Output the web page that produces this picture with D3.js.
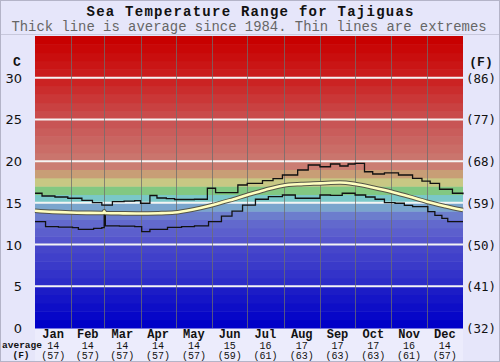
<!DOCTYPE html>
<html>
<head>
<meta charset="utf-8">
<script src="https://cdn.jsdelivr.net/npm/d3@7"></script>
<style>
  body { margin: 0; background: #e6e6fa; }
  svg { display: block; }
</style>
</head>
<body>
<svg id="chart" width="500" height="362"></svg>
<script>
// --- data (day of year, deg C) ---
var months = ["Jan","Feb","Mar","Apr","May","Jun","Jul","Aug","Sep","Oct","Nov","Dec"];
var monthStart = [0,31,59,90,120,151,181,212,243,273,304,334,365];
var avgC = [14,14,14,14,14,15,16,17,17,17,16,14];
var avgF = [57,57,57,57,57,59,61,63,63,63,61,57];
var cTicks = [0,5,10,15,20,25,30];
var fTicks = ["(32)","(41)","(50)","(59)","(68)","(77)","(86)"];

var maxLine = [[0,16.15],[6,15.82],[17,15.7],[28,15.55],[40,15.3],[49,15.02],[57,14.74],[66,15.14],[76,15.2],[85,15.26],[90,14.95],[98,15.88],[104,15.58],[112,15.5],[119,15.4],[136,15.43],[147,16.75],[154,16.22],[166,16.22],[173,17.14],[181,17.34],[194,17.66],[203,17.9],[211,18.34],[224,18.94],[233,19.54],[243,19.33],[252,19.66],[260,19.42],[267,19.66],[273,19.74],[281,18.73],[288,18.46],[298,18.6],[310,18.34],[322,17.94],[330,17.6],[337,17.34],[345,16.63],[356,16.15],[365,16.03]];
var minLine = [[0,12.74],[9,12.14],[20,12.1],[32,12.02],[37,11.83],[50,11.95],[57,12.02],[59,13.54],[60,12.23],[72,12.2],[85,12.14],[91,11.54],[98,11.83],[113,12.07],[125,12.15],[136,12.23],[148,12.74],[159,13.42],[168,14.0],[177,14.74],[188,15.43],[199,15.74],[211,15.94],[222,15.55],[233,15.55],[243,15.94],[252,15.9],[262,16.15],[273,15.94],[282,15.7],[290,15.43],[298,15.02],[307,14.95],[315,14.7],[322,14.54],[335,13.94],[341,13.5],[347,13.15],[352,12.74],[365,12.74]];
var avgLine = [[0,14.06],[15,13.92],[30,13.84],[45,13.8],[58,13.78],[59,13.98],[60,13.78],[75,13.74],[89,13.72],[105,13.76],[119,13.84],[135,14.2],[150,14.68],[166,15.3],[181,15.94],[196,16.55],[211,17.06],[227,17.25],[243,17.34],[260,17.44],[273,17.26],[288,16.85],[304,16.34],[319,15.75],[334,15.14],[350,14.6],[365,14.14]];

var svg = d3.select("#chart");
var W = 500, H = 362;
var pLeft = 35, pRight = 463, pTop = 36, pBottom = 328;

var x = d3.scaleLinear().domain([0,365]).range([pLeft,pRight]);
var y = d3.scaleLinear().domain([0,35]).range([pBottom,pTop]);

// background + frame
svg.append("rect").attr("width",W).attr("height",H).attr("fill","#e6e6fa");
svg.append("rect").attr("x",pLeft).attr("y",pBottom).attr("width",pRight-pLeft).attr("height",H-pBottom).attr("fill","#ececfc");
svg.append("line").attr("x1",0).attr("x2",W).attr("y1",34.5).attr("y2",34.5).attr("stroke","#c8c8dc");
svg.append("rect").attr("x",0.5).attr("y",0.5).attr("width",W-1).attr("height",H-1).attr("fill","none").attr("stroke","#b4b4c8");

// colour bands, one per degree
var anchors = [
  [0,"rgb(0,0,200)"],[4,"rgb(28,28,198)"],[5,"rgb(45,45,200)"],[9,"rgb(70,70,202)"],[10,"rgb(85,85,205)"],
  [12,"rgb(98,105,205)"],[13,"rgb(108,125,205)"],
  [14,"rgb(122,165,205)"],[15,"rgb(122,200,200)"],[16,"rgb(130,200,130)"],[17,"rgb(200,200,132)"],
  [18,"rgb(200,158,118)"],[19,"rgb(203,125,115)"],[24,"rgb(200,85,85)"],[29,"rgb(203,35,35)"],[34,"rgb(200,0,0)"]
];
var bandColor = d3.scaleLinear().domain(anchors.map(function(a){return a[0];}))
  .range(anchors.map(function(a){return a[1];})).interpolate(d3.interpolateRgb);
svg.append("g").selectAll("rect").data(d3.range(0,35)).enter().append("rect")
  .attr("x",pLeft).attr("width",pRight-pLeft)
  .attr("y",function(d){ return y(d+1); })
  .attr("height",function(d){ return y(d)-y(d+1)+0.5; })
  .attr("fill",function(d){ return bandColor(d); });

// white horizontal grid
svg.append("g").selectAll("line").data(cTicks.filter(function(d){return d>0;})).enter().append("line")
  .attr("x1",pLeft).attr("x2",pRight)
  .attr("y1",function(d){return y(d);}).attr("y2",function(d){return y(d);})
  .attr("stroke","#f4f4f4").attr("stroke-width",2);

// month separators
svg.append("g").selectAll("line").data(monthStart.slice(1,12)).enter().append("line")
  .attr("x1",function(d){return Math.round(x(d))+0.5;}).attr("x2",function(d){return Math.round(x(d))+0.5;})
  .attr("y1",pTop).attr("y2",pBottom)
  .attr("stroke","#6e6e6e").attr("stroke-opacity",0.75).attr("stroke-width",1);

// lines
var stepLine = d3.line().x(function(d){return x(d[0]);}).y(function(d){return y(d[1]);}).curve(d3.curveStepAfter);
var smoothLine = d3.line().x(function(d){return x(d[0]);}).y(function(d){return y(d[1]);}).curve(d3.curveMonotoneX);

[maxLine,minLine].forEach(function(s){
  svg.append("path").attr("d",stepLine(s)).attr("fill","none").attr("stroke","#111").attr("stroke-width",1.3);
});
svg.append("path").attr("d",smoothLine(avgLine)).attr("fill","none").attr("stroke","#555548").attr("stroke-width",4.6);
svg.append("path").attr("d",smoothLine(avgLine)).attr("fill","none").attr("stroke","#ffffc0").attr("stroke-width",2.6);

// titles
svg.append("text").attr("x",250).attr("y",16).attr("text-anchor","middle")
  .style("font","bold 14px 'Liberation Mono', monospace").attr("fill","#111")
  .attr("textLength",327).text("Sea Temperature Range for Tajiguas");
svg.append("text").attr("x",249).attr("y",31).attr("text-anchor","middle")
  .style("font","13.9px 'Liberation Mono', monospace").attr("fill","#666")
  .text("Thick line is average since 1984. Thin lines are extremes");

// axis labels
svg.append("text").attr("x",17).attr("y",66).attr("text-anchor","middle")
  .style("font","bold 13px 'Liberation Mono', monospace").attr("fill","#111").text("C");
svg.append("text").attr("x",481).attr("y",66).attr("text-anchor","middle")
  .style("font","bold 13px 'Liberation Mono', monospace").attr("fill","#111").text("(F)");

svg.append("g").selectAll("text").data(cTicks).enter().append("text")
  .attr("x",22).attr("y",function(d){return y(d)+5;}).attr("text-anchor","end")
  .style("font","13px 'DejaVu Sans', sans-serif").attr("fill","#111")
  .text(function(d){return d;});
svg.append("g").selectAll("text").data(fTicks).enter().append("text")
  .attr("x",466).attr("y",function(d,i){return y(cTicks[i])+5;})
  .style("font","12.5px 'DejaVu Sans Mono', monospace").attr("fill","#111")
  .text(function(d){return d;});

// month labels and averages
var mid = function(i){ return x((monthStart[i]+monthStart[i+1])/2); };
var mg = svg.append("g").selectAll("g").data(months).enter().append("g");
mg.append("text").attr("x",function(d,i){return mid(i);}).attr("y",338).attr("text-anchor","middle")
  .style("font","bold 12px 'Liberation Mono', monospace").attr("fill","#111").text(function(d){return d;});
mg.append("text").attr("x",function(d,i){return mid(i);}).attr("y",349).attr("text-anchor","middle")
  .style("font","10px 'Liberation Mono', monospace").attr("fill","#111").text(function(d,i){return avgC[i];});
mg.append("text").attr("x",function(d,i){return mid(i);}).attr("y",359).attr("text-anchor","middle")
  .style("font","10px 'Liberation Mono', monospace").attr("fill","#111").text(function(d,i){return "("+avgF[i]+")";});

svg.append("text").attr("x",22).attr("y",348).attr("text-anchor","middle")
  .style("font","bold 9.5px 'Liberation Mono', monospace").attr("fill","#111").text("average");
svg.append("text").attr("x",21).attr("y",358).attr("text-anchor","middle")
  .style("font","bold 9.5px 'Liberation Mono', monospace").attr("fill","#111").text("(F)");
</script>
</body>
</html>
